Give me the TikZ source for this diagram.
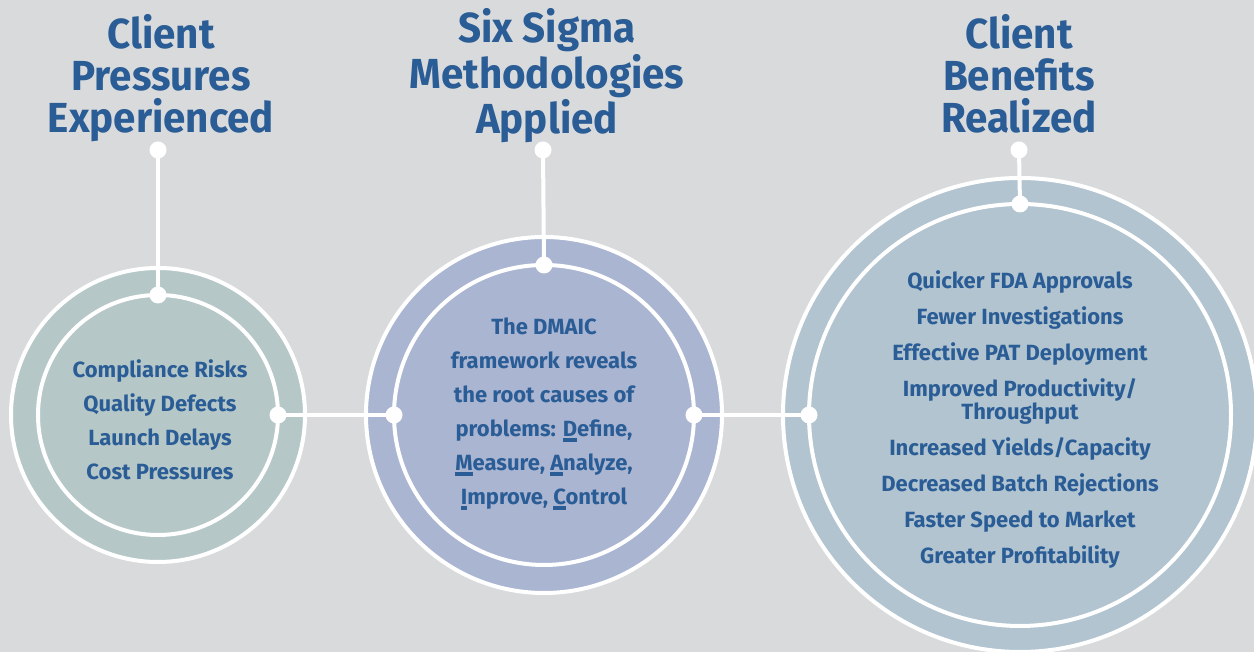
\documentclass[tikz,border=0pt]{standalone}
\usepackage{fontspec}
\usepackage{tikz}
\newfontfamily\headfont{Fira Sans}[FakeStretch=0.96]
\newfontfamily\bodyfont{Fira Sans}
\definecolor{bggray}{HTML}{D9DADC}
\definecolor{leftfill}{HTML}{B6C7C8}
\definecolor{midfill}{HTML}{AAB5D2}
\definecolor{rightfill}{HTML}{B2C4D0}
\definecolor{textblue}{HTML}{2A5C95}
\newlength\klen
\newcommand\keyletter[1]{\settowidth\klen{#1}\rlap{\rule[-2.4pt]{\klen}{1.6pt}}#1}

\begin{document}
\begin{tikzpicture}[x=0.5pt, y=0.5pt,
		ring/.style={circle, draw=white, line width=2pt, inner sep=0pt, outer sep=0pt},
		dot/.style={circle, fill=white, inner sep=0pt, minimum size=8.5pt},
		link/.style={draw=white, line width=2pt},
		head/.style={text=textblue, align=center, font=\headfont\bfseries\fontsize{21}{21}\selectfont},
		body/.style={text=textblue, align=center, font=\bodyfont\bfseries\fontsize{11}{17}\selectfont}]
			\fill[bggray] (0, 0) rectangle (1254, 652);
			\useasboundingbox (0, 0) rectangle (1254, 652);
			\clip (0, 0) rectangle (1254, 652);
			% outer and inner discs
			\node (lout) [ring, fill=leftfill, minimum size=147pt] at (158, 237) {};
			\node (lin) [ring, fill=leftfill, minimum size=120pt] at (158, 237) {};
			\node (mout) [ring, fill=midfill, minimum size=178pt] at (544, 237) {};
			\node (min) [ring, fill=midfill, minimum size=150pt] at (544, 237) {};
			\node (rout) [ring, fill=rightfill, minimum size=237pt] at (1020, 237) {};
			\node (rin) [ring, fill=rightfill, minimum size=211pt] at (1020, 237) {};
			% titles
			\node (lhead) [head] at (161, 574) {Client\\Pressures\\Experienced};
			\node (mhead) [head] at (547, 576) {Six Sigma\\Methodologies\\Applied};
			\node (rhead) [head] at (1019, 578) {Client\\Benefits\\Realized};
			\node (ltop) [dot] at (158, 502) {};
			\node (mtop) [dot] at (543, 502) {};
			\node (rtop) [dot] at (1019, 502) {};
			% connectors
			\draw[link] (ltop.center) -- (lin.north);
			\draw[link] (mtop.center) -- (min.north);
			\draw[link] (rtop.center) -- (rin.north);
			\draw[link] (lin.east) -- (min.west);
			\draw[link] (min.east) -- (rin.west);
			\foreach \p in {lin.north, lin.east, min.north, min.west, min.east, rin.north, rin.west}
				\node[dot] at (\p) {};
			% texts
			\node (ltext) [body] at (160, 232) {Compliance Risks\\Quality Defects\\Launch Delays\\Cost Pressures};
			\node (mtext) [body] at (544, 238) {The DMAIC\\framework reveals\\the root causes of\\problems: \keyletter{D}efine,\\\keyletter{M}easure, \keyletter{A}nalyze,\\\keyletter{I}mprove, \keyletter{C}ontrol};
			\node (rtext) [body, font=\bodyfont\bfseries\fontsize{11}{18}\selectfont] at (1020, 232) {Quicker FDA Approvals\\Fewer Investigations\\Effective PAT Deployment\\Improved Productivity/\\[-6.5pt]Throughput\\Increased Yields/Capacity\\Decreased Batch Rejections\\Faster Speed to Market\\Greater Profitability};
		\end{tikzpicture}
\end{document}
